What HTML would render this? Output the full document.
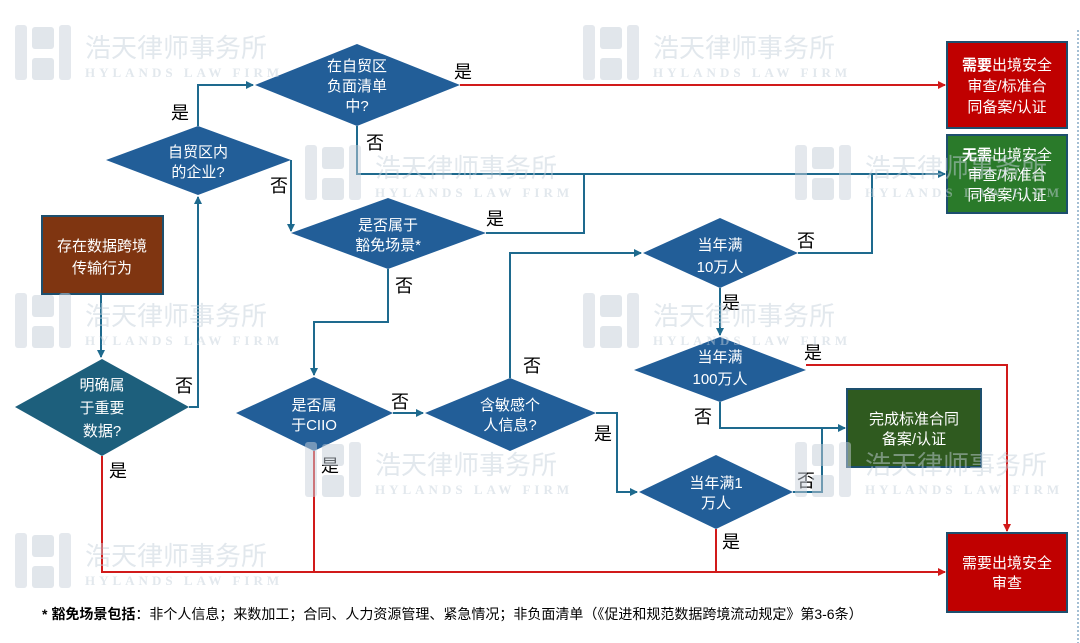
<!DOCTYPE html>
<html><head><meta charset="utf-8"><style>
html,body{margin:0;padding:0;background:#fff;}
svg{display:block;font-family:"Liberation Sans","Noto Sans CJK SC",sans-serif;}
.wm1{font-size:26px;fill:#c5d0db;}
.wm2{font-size:13px;fill:#c5d0db;letter-spacing:4px;font-family:"Liberation Serif",serif;font-weight:bold;}
.t{fill:#fff;font-size:15px;text-anchor:middle;}
.l{fill:#000;font-size:18px;text-anchor:middle;}
.b{fill:none;stroke:#1e6a8e;stroke-width:2;}
.r{fill:none;stroke:#d11a1a;stroke-width:2;}
</style></head><body>
<svg width="1080" height="643" viewBox="0 0 1080 643" xmlns="http://www.w3.org/2000/svg">
<defs>
<marker id="ab" markerWidth="8" markerHeight="8" refX="7" refY="4" orient="auto" markerUnits="userSpaceOnUse"><path d="M0,0 L8,4 L0,8z" fill="#1e6a8e"/></marker>
<marker id="ar" markerWidth="8" markerHeight="8" refX="7" refY="4" orient="auto" markerUnits="userSpaceOnUse"><path d="M0,0 L8,4 L0,8z" fill="#d11a1a"/></marker>
<g id="wm">
<rect x="0" y="0" width="12" height="55" rx="3" fill="#c8d1db"/>
<rect x="44" y="0" width="12" height="55" rx="3" fill="#c8d1db"/>
<rect x="17" y="2" width="22" height="22" rx="3" fill="#c2ccd7"/>
<rect x="17" y="33" width="22" height="22" rx="3" fill="#c2ccd7"/>
<text x="70" y="32" class="wm1">浩天律师事务所</text>
<text x="70" y="52" class="wm2">HYLANDS LAW FIRM</text>
</g>
</defs>
<line x1="1078" y1="30" x2="1078" y2="643" stroke="#4a7fa8" stroke-width="1" stroke-dasharray="2,2"/>

<!-- connectors -->
<polyline class="b" points="101,294 101,357" marker-end="url(#ab)"/>
<polyline class="b" points="189,407 198,407 198,197" marker-end="url(#ab)"/>
<polyline class="b" points="198,126 198,85 253,85" marker-end="url(#ab)"/>
<polyline class="r" points="460,85 945,85" marker-end="url(#ar)"/>
<polyline class="b" points="357,126 357,174 945,174" marker-end="url(#ab)"/>
<polyline class="b" points="291,160 291,231" marker-end="url(#ab)"/>
<polyline class="b" points="486,233 584,233 584,174"/>
<polyline class="b" points="388,269 388,322 314,322 314,375" marker-end="url(#ab)"/>
<polyline class="b" points="393,413 423,413" marker-end="url(#ab)"/>
<polyline class="b" points="510,378 510,253 641,253" marker-end="url(#ab)"/>
<polyline class="b" points="798,253 872,253 872,174"/>
<polyline class="b" points="720,288 720,335" marker-end="url(#ab)"/>
<polyline class="r" points="806,365 1007,365 1007,531" marker-end="url(#ar)"/>
<polyline class="b" points="720,402 720,428 845,428" marker-end="url(#ab)"/>
<polyline class="b" points="596,413 617,413 617,492 637,492" marker-end="url(#ab)"/>
<polyline class="b" points="793,492 822,492 822,428"/>
<polyline class="r" points="716,529 716,572"/>
<polyline class="r" points="102,456 102,572 945,572" marker-end="url(#ar)"/>
<polyline class="r" points="314,451 314,572"/>

<!-- boxes -->
<rect x="42" y="216" width="121" height="78" fill="#7f3511" stroke="#1d4f6e" stroke-width="2"/>
<text class="t" x="102" y="251">存在数据跨境</text><text class="t" x="102" y="273">传输行为</text>
<rect x="947" y="42" width="120" height="86" fill="#c00000" stroke="#1d4f6e" stroke-width="2"/>
<text class="t" x="1007" y="70"><tspan font-weight="bold">需要</tspan>出境安全</text><text class="t" x="1007" y="91">审查/标准合</text><text class="t" x="1007" y="112">同备案/认证</text>
<rect x="947" y="135" width="120" height="78" fill="#2a7a2a" stroke="#1d4f6e" stroke-width="2"/>
<text class="t" x="1007" y="160"><tspan font-weight="bold">无需</tspan>出境安全</text><text class="t" x="1007" y="180">审查/标准合</text><text class="t" x="1007" y="200">同备案/认证</text>
<rect x="847" y="389" width="134" height="78" fill="#2f5a1f" stroke="#1d4f6e" stroke-width="2"/>
<text class="t" x="914" y="424">完成标准合同</text><text class="t" x="914" y="444">备案/认证</text>
<rect x="947" y="533" width="120" height="79" fill="#c00000" stroke="#1d4f6e" stroke-width="2"/>
<text class="t" x="1007" y="568">需要出境安全</text><text class="t" x="1007" y="588">审查</text>

<!-- diamonds -->
<polygon points="255,85 357,44 460,85 357,126" fill="#225e98"/>
<text class="t" x="357" y="71">在自贸区</text><text class="t" x="357" y="91">负面清单</text><text class="t" x="357" y="111">中?</text>
<polygon points="106,160 198,126 291,160 198,195" fill="#225e98"/>
<text class="t" x="198" y="157">自贸区内</text><text class="t" x="198" y="177">的企业?</text>
<polygon points="291,233 388,198 486,233 388,269" fill="#225e98"/>
<text class="t" x="388" y="230">是否属于</text><text class="t" x="388" y="250">豁免场景*</text>
<polygon points="15,407 102,359 189,407 102,456" fill="#1d5f7c"/>
<text class="t" x="102" y="390" font-size="16">明确属</text><text class="t" x="102" y="413" font-size="16">于重要</text><text class="t" x="102" y="436" font-size="16">数据?</text>
<polygon points="236,413 314,377 393,413 314,451" fill="#225e98"/>
<text class="t" x="314" y="410">是否属</text><text class="t" x="314" y="430">于CIIO</text>
<polygon points="425,413 510,378 596,413 510,451" fill="#225e98"/>
<text class="t" x="510" y="410">含敏感个</text><text class="t" x="510" y="430">人信息?</text>
<polygon points="643,253 720,218 798,253 720,288" fill="#225e98"/>
<text class="t" x="720" y="250" font-size="16">当年满</text><text class="t" x="720" y="272" font-size="16">10万人</text>
<polygon points="634,370 720,337 806,370 720,402" fill="#225e98"/>
<text class="t" x="720" y="362" font-size="16">当年满</text><text class="t" x="720" y="384" font-size="16">100万人</text>
<polygon points="639,492 716,455 793,492 716,529" fill="#225e98"/>
<text class="t" x="716" y="488">当年满1</text><text class="t" x="716" y="508">万人</text>

<!-- labels -->
<text class="l" x="180" y="119">是</text>
<text class="l" x="463" y="78">是</text>
<text class="l" x="375" y="149">否</text>
<text class="l" x="279" y="192">否</text>
<text class="l" x="495" y="225">是</text>
<text class="l" x="404" y="292">否</text>
<text class="l" x="184" y="392">否</text>
<text class="l" x="400" y="408">否</text>
<text class="l" x="532" y="372">否</text>
<text class="l" x="806" y="247">否</text>
<text class="l" x="731" y="309">是</text>
<text class="l" x="813" y="359">是</text>
<text class="l" x="703" y="423">否</text>
<text class="l" x="603" y="440">是</text>
<text class="l" x="806" y="487">否</text>
<text class="l" x="731" y="548">是</text>
<text class="l" x="118" y="477">是</text>
<text class="l" x="330" y="472">是</text>

<text x="42" y="619" font-size="14" fill="#000"><tspan font-weight="bold">* 豁免场景包括</tspan>：非个人信息；来数加工；合同、人力资源管理、紧急情况；非负面清单（《促进和规范数据跨境流动规定》第3-6条）</text>

<!-- watermarks overlay -->
<g opacity="0.5">
<use href="#wm" x="15" y="25"/>
<use href="#wm" x="583" y="25"/>
<use href="#wm" x="305" y="145"/>
<use href="#wm" x="795" y="145"/>
<use href="#wm" x="15" y="293"/>
<use href="#wm" x="583" y="293"/>
<use href="#wm" x="305" y="442"/>
<use href="#wm" x="795" y="442"/>
<use href="#wm" x="15" y="533"/>
</g>
</svg>
</body></html>
